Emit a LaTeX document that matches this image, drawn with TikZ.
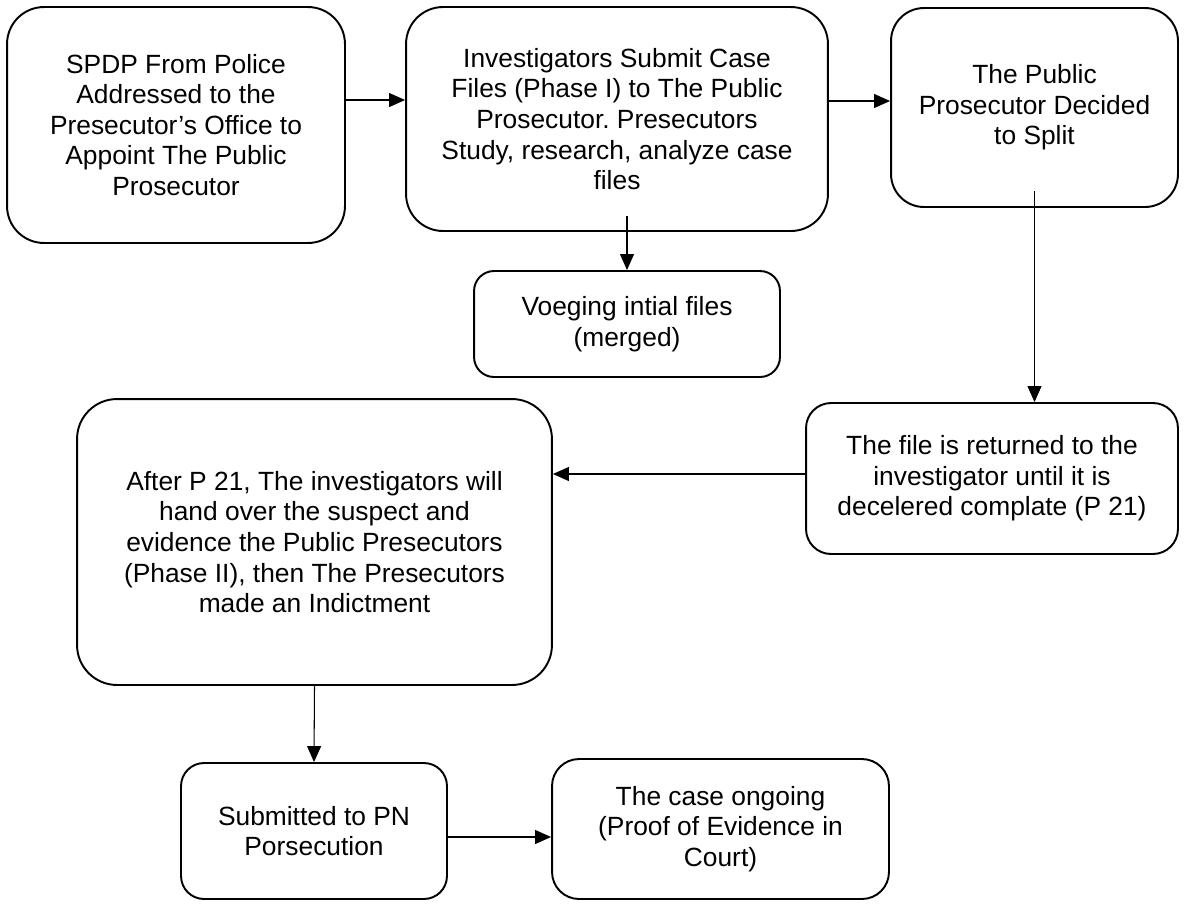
\documentclass[tikz,border=0pt]{standalone}
\usepackage{fontspec}
\setmainfont{Liberation Sans}
\usepackage{tikz}
\usetikzlibrary{arrows.meta}
\frenchspacing

\tikzset{
  procbox/.style={draw, line width=1.1pt, rectangle, rounded corners=0.6cm,
    align=center, inner sep=0pt, font=\fontsize{15}{17.4}\selectfont},
  flowarrow/.style={line width=0.6pt, -{Triangle[length=0.32cm, width=0.28cm]}}
}

\begin{document}
\begin{tikzpicture}[x=0.02cm, y=-0.02cm]
                \useasboundingbox (0,0) rectangle (1184,904);
                % Top row
                \node[procbox, rounded corners=0.74cm, minimum width=6.76cm, minimum height=4.72cm] (spdp) at (176,125)
                  {SPDP From Police\\Addressed to the\\Presecutor’s Office to\\Appoint The Public\\Prosecutor};
                \node[procbox, rounded corners=0.74cm, minimum width=8.44cm, minimum height=4.48cm] (submit) at (617,119)
                  {Investigators Submit Case\\Files (Phase I) to The Public\\Prosecutor. Presecutors\\Study, research, analyze case\\files};
                \node[procbox, rounded corners=0.66cm, minimum width=5.74cm, minimum height=3.98cm] (split) at (1034.5,107.5)
                  {The Public\\Prosecutor Decided\\to Split};
                \node[procbox, rounded corners=0.4cm, minimum width=6.12cm, minimum height=2.12cm] (voeging) at (627,324)
                  {Voeging intial files\\(merged)};
                
                % Middle row
                \node[procbox, rounded corners=0.5cm, minimum width=7.44cm, minimum height=3.02cm] (returned) at (992,478.5)
                  {The file is returned to the\\investigator until it is\\decelered complate (P 21)};
                \node[procbox, rounded corners=0.8cm, minimum width=9.5cm, minimum height=5.72cm] (indict) at (314.5,542)
                  {After P 21, The investigators will\\hand over the suspect and\\evidence the Public Presecutors\\(Phase II), then The Presecutors\\made an Indictment};
                
                % Bottom row
                \node[procbox, rounded corners=0.46cm, minimum width=5.32cm, minimum height=2.72cm] (pn) at (314,831)
                  {Submitted to PN\\Porsecution};
                \node[procbox, rounded corners=0.54cm, minimum width=6.74cm, minimum height=2.8cm] (court) at (720.5,829)
                  {The case ongoing\\(Proof of Evidence in\\Court)};
                
                % Arrows
                \draw[flowarrow] (spdp.east |- 0,100) -- (submit.west |- 0,100);
                \draw[flowarrow] (submit.east |- 0,101) -- (split.west |- 0,101);
                \draw[flowarrow] (submit.south -| voeging.north) ++(0,-16) -- (voeging.north);
                \draw[flowarrow] (split.south) ++(0,-17) -- (returned.north -| split.south);
                \draw[flowarrow] (returned.west |- 0,474) -- (indict.east |- 0,474);
                \draw[flowarrow] (indict.south) -- (pn.north);
                \draw[flowarrow] (pn.east |- 0,837) -- (court.west |- 0,837);
            \end{tikzpicture}
\end{document}
